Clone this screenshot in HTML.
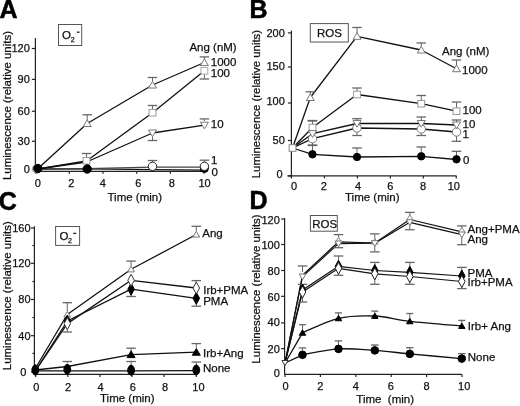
<!DOCTYPE html>
<html><head><meta charset="utf-8"><style>
html,body{margin:0;padding:0;background:#fff;}
svg{display:block;font-family:"Liberation Sans", sans-serif;will-change:transform;}
</style></head><body>
<svg width="520" height="406" viewBox="0 0 520 406">
<rect width="520" height="406" fill="#fff"/>
<text x="-0.5" y="17.6" font-size="25" text-anchor="start" font-weight="bold" fill="#000" stroke="#000" stroke-width="0.5">A</text>
<rect x="58.5" y="24.5" width="23.2" height="21" fill="none" stroke="#555" stroke-width="1"/>
<text x="62" y="39.3" font-size="11.5" text-anchor="start" font-weight="normal" fill="#111" stroke="#111" stroke-width="0.25">O</text>
<text x="70.8" y="41.6" font-size="7" text-anchor="start" font-weight="normal" fill="#111" stroke="#111" stroke-width="0.25">2</text>
<line x1="76.8" y1="32.2" x2="79.6" y2="32.2" stroke="#222" stroke-width="1.3"/>
<text transform="translate(10.9,105.5) rotate(-90)" x="0" y="0" font-size="11.5" text-anchor="middle" fill="#111" stroke="#111" stroke-width="0.25" textLength="149" lengthAdjust="spacingAndGlyphs">Luminescence (relative units)</text>
<line x1="35.4" y1="38" x2="35.4" y2="171.5" stroke="#222" stroke-width="1.2"/>
<line x1="31.9" y1="48.5" x2="35.4" y2="48.5" stroke="#222" stroke-width="1.2"/>
<text x="29.8" y="52.4" font-size="11" text-anchor="end" font-weight="normal" fill="#111" stroke="#111" stroke-width="0.25">120</text>
<line x1="31.9" y1="79.4" x2="35.4" y2="79.4" stroke="#222" stroke-width="1.2"/>
<text x="29.8" y="83.3" font-size="11" text-anchor="end" font-weight="normal" fill="#111" stroke="#111" stroke-width="0.25">90</text>
<line x1="31.9" y1="111.25" x2="35.4" y2="111.25" stroke="#222" stroke-width="1.2"/>
<text x="29.8" y="115.15" font-size="11" text-anchor="end" font-weight="normal" fill="#111" stroke="#111" stroke-width="0.25">60</text>
<line x1="31.9" y1="141.25" x2="35.4" y2="141.25" stroke="#222" stroke-width="1.2"/>
<text x="29.8" y="145.15" font-size="11" text-anchor="end" font-weight="normal" fill="#111" stroke="#111" stroke-width="0.25">30</text>
<line x1="31.9" y1="169.5" x2="35.4" y2="169.5" stroke="#222" stroke-width="1.2"/>
<text x="29.8" y="173.4" font-size="11" text-anchor="end" font-weight="normal" fill="#111" stroke="#111" stroke-width="0.25">0</text>
<line x1="35.4" y1="171.3" x2="204.4" y2="171.3" stroke="#222" stroke-width="1.2"/>
<line x1="35.6" y1="171.3" x2="35.6" y2="173.8" stroke="#222" stroke-width="1.2"/>
<text x="37.9" y="186.8" font-size="11" text-anchor="middle" font-weight="normal" fill="#111" stroke="#111" stroke-width="0.25">0</text>
<line x1="69.3" y1="171.3" x2="69.3" y2="173.8" stroke="#222" stroke-width="1.2"/>
<text x="71.25" y="186.8" font-size="11" text-anchor="middle" font-weight="normal" fill="#111" stroke="#111" stroke-width="0.25">2</text>
<line x1="103" y1="171.3" x2="103" y2="173.8" stroke="#222" stroke-width="1.2"/>
<text x="102.7" y="186.8" font-size="11" text-anchor="middle" font-weight="normal" fill="#111" stroke="#111" stroke-width="0.25">4</text>
<line x1="136.7" y1="171.3" x2="136.7" y2="173.8" stroke="#222" stroke-width="1.2"/>
<text x="138.3" y="186.8" font-size="11" text-anchor="middle" font-weight="normal" fill="#111" stroke="#111" stroke-width="0.25">6</text>
<line x1="170.4" y1="171.3" x2="170.4" y2="173.8" stroke="#222" stroke-width="1.2"/>
<text x="171.9" y="186.8" font-size="11" text-anchor="middle" font-weight="normal" fill="#111" stroke="#111" stroke-width="0.25">8</text>
<line x1="204.1" y1="171.3" x2="204.1" y2="173.8" stroke="#222" stroke-width="1.2"/>
<text x="204.6" y="186.8" font-size="11" text-anchor="middle" font-weight="normal" fill="#111" stroke="#111" stroke-width="0.25">10</text>
<text x="107.5" y="201" font-size="11.5" text-anchor="start" font-weight="normal" fill="#111" stroke="#111" stroke-width="0.25">Time (min)</text>
<polyline points="37.5,169 87,168.8 152.5,169.6 204.4,170.2" fill="none" stroke="#111" stroke-width="1.3" stroke-linejoin="round"/>
<polyline points="37.5,169 87,168.6 152.5,167.2 204.4,167.2" fill="none" stroke="#444" stroke-width="1.3" stroke-linejoin="round"/>
<polyline points="37.5,169 86.5,162 152.5,133 204.4,125.2" fill="none" stroke="#111" stroke-width="1.3" stroke-linejoin="round"/>
<polyline points="37.5,169 86.5,161 152.5,112.7 204.4,70.8" fill="none" stroke="#111" stroke-width="1.3" stroke-linejoin="round"/>
<polyline points="37.5,169 87.2,123.5 152.5,85 204.4,62.5" fill="none" stroke="#111" stroke-width="1.3" stroke-linejoin="round"/>
<line x1="87.2" y1="120" x2="87.2" y2="114.8" stroke="#666" stroke-width="1"/>
<line x1="82.45" y1="114.8" x2="91.95" y2="114.8" stroke="#666" stroke-width="1.3"/>
<line x1="152.5" y1="81.5" x2="152.5" y2="77.5" stroke="#666" stroke-width="1"/>
<line x1="147.75" y1="77.5" x2="157.25" y2="77.5" stroke="#666" stroke-width="1.3"/>
<line x1="204.4" y1="59" x2="204.4" y2="56.9" stroke="#666" stroke-width="1"/>
<line x1="199.65" y1="56.9" x2="209.15" y2="56.9" stroke="#666" stroke-width="1.3"/>
<line x1="86.5" y1="157" x2="86.5" y2="153.5" stroke="#666" stroke-width="1"/>
<line x1="81.75" y1="153.5" x2="91.25" y2="153.5" stroke="#666" stroke-width="1.3"/>
<line x1="152.5" y1="109" x2="152.5" y2="105.5" stroke="#666" stroke-width="1"/>
<line x1="147.75" y1="105.5" x2="157.25" y2="105.5" stroke="#666" stroke-width="1.3"/>
<line x1="204.4" y1="74" x2="204.4" y2="79" stroke="#666" stroke-width="1"/>
<line x1="199.65" y1="79" x2="209.15" y2="79" stroke="#666" stroke-width="1.3"/>
<line x1="152.5" y1="137" x2="152.5" y2="140.5" stroke="#666" stroke-width="1"/>
<line x1="147.75" y1="140.5" x2="157.25" y2="140.5" stroke="#666" stroke-width="1.3"/>
<line x1="204.4" y1="121" x2="204.4" y2="118.9" stroke="#666" stroke-width="1"/>
<line x1="199.65" y1="118.9" x2="209.15" y2="118.9" stroke="#666" stroke-width="1.3"/>
<line x1="152.5" y1="162" x2="152.5" y2="160.5" stroke="#666" stroke-width="1"/>
<line x1="147.75" y1="160.5" x2="157.25" y2="160.5" stroke="#666" stroke-width="1.3"/>
<line x1="204.4" y1="162" x2="204.4" y2="160.2" stroke="#666" stroke-width="1"/>
<line x1="199.65" y1="160.2" x2="209.15" y2="160.2" stroke="#666" stroke-width="1.3"/>
<circle cx="36.5" cy="169" r="4.2" fill="#fff" stroke="#999" stroke-width="1"/>
<polygon points="87.2,119.8 91.19,126.52 83.21,126.52" fill="#fff" stroke="#777" stroke-width="1"/>
<polygon points="152.5,81.3 156.49,88.02 148.51,88.02" fill="#fff" stroke="#777" stroke-width="1"/>
<polygon points="204.4,58.8 208.39,65.52 200.41,65.52" fill="#fff" stroke="#777" stroke-width="1"/>
<rect x="83.1" y="157.5" width="6.8" height="6.6" fill="#fff" stroke="#999" stroke-width="1"/>
<rect x="149.1" y="109.4" width="6.8" height="6.6" fill="#fff" stroke="#999" stroke-width="1"/>
<rect x="201" y="67.5" width="6.8" height="6.6" fill="#fff" stroke="#aaa" stroke-width="1"/>
<polygon points="152.5,136.7 156.49,129.98 148.51,129.98" fill="#fff" stroke="#777" stroke-width="1"/>
<polygon points="204.4,128.9 208.39,122.18 200.41,122.18" fill="#fff" stroke="#777" stroke-width="1"/>
<circle cx="204.4" cy="168.4" r="4" fill="#000" stroke="#000" stroke-width="1"/>
<circle cx="152.5" cy="166.3" r="4.2" fill="#fff" stroke="#222" stroke-width="1"/>
<circle cx="204.4" cy="166.3" r="4.2" fill="#fff" stroke="#222" stroke-width="1"/>
<circle cx="37.8" cy="168.5" r="4.2" fill="#000" stroke="#000" stroke-width="1"/>
<circle cx="87.2" cy="169" r="4.2" fill="#000" stroke="#000" stroke-width="1"/>
<text x="189.4" y="50.8" font-size="11.5" text-anchor="start" font-weight="normal" fill="#111" stroke="#111" stroke-width="0.25">Ang (nM)</text>
<text x="210.8" y="66" font-size="11.5" text-anchor="start" font-weight="normal" fill="#111" stroke="#111" stroke-width="0.25">1000</text>
<text x="210.8" y="76.5" font-size="11.5" text-anchor="start" font-weight="normal" fill="#111" stroke="#111" stroke-width="0.25">100</text>
<text x="210.8" y="128.4" font-size="11.5" text-anchor="start" font-weight="normal" fill="#111" stroke="#111" stroke-width="0.25">10</text>
<text x="211" y="164" font-size="11.5" text-anchor="start" font-weight="normal" fill="#111" stroke="#111" stroke-width="0.25">1</text>
<text x="211.5" y="175.5" font-size="11.5" text-anchor="start" font-weight="normal" fill="#111" stroke="#111" stroke-width="0.25">0</text>
<text x="249.5" y="17.9" font-size="25" text-anchor="start" font-weight="bold" fill="#000" stroke="#000" stroke-width="0.5">B</text>
<rect x="310.3" y="23.6" width="38" height="18.4" fill="none" stroke="#555" stroke-width="1"/>
<text x="317" y="37.2" font-size="11.5" text-anchor="start" font-weight="normal" fill="#111" stroke="#111" stroke-width="0.25">ROS</text>
<text transform="translate(259.5,104.1) rotate(-90)" x="0" y="0" font-size="11.5" text-anchor="middle" fill="#111" stroke="#111" stroke-width="0.25" textLength="148.4" lengthAdjust="spacingAndGlyphs">Luminescence (relative units)</text>
<line x1="291.4" y1="30.5" x2="291.4" y2="177.8" stroke="#222" stroke-width="1.2"/>
<line x1="287.9" y1="32.9" x2="291.4" y2="32.9" stroke="#222" stroke-width="1.2"/>
<text x="284.8" y="36.5" font-size="11" text-anchor="end" font-weight="normal" fill="#111" stroke="#111" stroke-width="0.25">200</text>
<line x1="287.9" y1="67" x2="291.4" y2="67" stroke="#222" stroke-width="1.2"/>
<text x="284.8" y="70.4" font-size="11" text-anchor="end" font-weight="normal" fill="#111" stroke="#111" stroke-width="0.25">150</text>
<line x1="287.9" y1="103" x2="291.4" y2="103" stroke="#222" stroke-width="1.2"/>
<text x="284.8" y="105" font-size="11" text-anchor="end" font-weight="normal" fill="#111" stroke="#111" stroke-width="0.25">100</text>
<line x1="287.9" y1="140.5" x2="291.4" y2="140.5" stroke="#222" stroke-width="1.2"/>
<text x="284.8" y="144.2" font-size="11" text-anchor="end" font-weight="normal" fill="#111" stroke="#111" stroke-width="0.25">50</text>
<line x1="287.9" y1="175.9" x2="291.4" y2="175.9" stroke="#222" stroke-width="1.2"/>
<text x="284.8" y="177.5" font-size="11" text-anchor="end" font-weight="normal" fill="#111" stroke="#111" stroke-width="0.25"></text>
<text x="282.6" y="177.5" font-size="11" text-anchor="end" font-weight="normal" fill="#111" stroke="#111" stroke-width="0.25">0</text>
<line x1="287.5" y1="175.9" x2="456.6" y2="175.9" stroke="#222" stroke-width="1.2"/>
<line x1="291.5" y1="175.9" x2="291.5" y2="178.4" stroke="#222" stroke-width="1.2"/>
<text x="294" y="189.6" font-size="11" text-anchor="middle" font-weight="normal" fill="#111" stroke="#111" stroke-width="0.25">0</text>
<line x1="324.45" y1="175.9" x2="324.45" y2="178.4" stroke="#222" stroke-width="1.2"/>
<text x="323.9" y="189.6" font-size="11" text-anchor="middle" font-weight="normal" fill="#111" stroke="#111" stroke-width="0.25">2</text>
<line x1="357.4" y1="175.9" x2="357.4" y2="178.4" stroke="#222" stroke-width="1.2"/>
<text x="358" y="189.6" font-size="11" text-anchor="middle" font-weight="normal" fill="#111" stroke="#111" stroke-width="0.25">4</text>
<line x1="390.35" y1="175.9" x2="390.35" y2="178.4" stroke="#222" stroke-width="1.2"/>
<text x="390.4" y="189.6" font-size="11" text-anchor="middle" font-weight="normal" fill="#111" stroke="#111" stroke-width="0.25">6</text>
<line x1="423.3" y1="175.9" x2="423.3" y2="178.4" stroke="#222" stroke-width="1.2"/>
<text x="423.1" y="189.6" font-size="11" text-anchor="middle" font-weight="normal" fill="#111" stroke="#111" stroke-width="0.25">8</text>
<line x1="456.25" y1="175.9" x2="456.25" y2="178.4" stroke="#222" stroke-width="1.2"/>
<text x="453.8" y="189.6" font-size="11" text-anchor="middle" font-weight="normal" fill="#111" stroke="#111" stroke-width="0.25">10</text>
<text x="345" y="201" font-size="11.5" text-anchor="start" font-weight="normal" fill="#111" stroke="#111" stroke-width="0.25">Time (min)</text>
<polyline points="292.5,148 312.5,154.3 357,157 421.25,156.3 456.5,159.5" fill="none" stroke="#111" stroke-width="1.3" stroke-linejoin="round"/>
<polyline points="292.5,148 312.5,138.7 357,128 421.25,129 456.5,132" fill="none" stroke="#111" stroke-width="1.3" stroke-linejoin="round"/>
<polyline points="292.5,148 312.5,133.7 357,123.5 421.25,123.5 456.5,125" fill="none" stroke="#111" stroke-width="1.3" stroke-linejoin="round"/>
<polyline points="292.5,148 312.5,127.5 357,94.5 421.25,103.7 456.5,111.2" fill="none" stroke="#111" stroke-width="1.3" stroke-linejoin="round"/>
<polyline points="292.5,148 310.3,97.5 357,36.3 421.25,50 456.5,68.7" fill="none" stroke="#111" stroke-width="1.3" stroke-linejoin="round"/>
<line x1="310.3" y1="94" x2="310.3" y2="91.8" stroke="#666" stroke-width="1"/>
<line x1="305.55" y1="91.8" x2="315.05" y2="91.8" stroke="#666" stroke-width="1.3"/>
<line x1="357" y1="33" x2="357" y2="27.5" stroke="#666" stroke-width="1"/>
<line x1="352.25" y1="27.5" x2="361.75" y2="27.5" stroke="#666" stroke-width="1.3"/>
<line x1="421.25" y1="46" x2="421.25" y2="43" stroke="#666" stroke-width="1"/>
<line x1="416.5" y1="43" x2="426" y2="43" stroke="#666" stroke-width="1.3"/>
<line x1="456.5" y1="65" x2="456.5" y2="60" stroke="#666" stroke-width="1"/>
<line x1="451.75" y1="60" x2="461.25" y2="60" stroke="#666" stroke-width="1.3"/>
<line x1="312.5" y1="124" x2="312.5" y2="120.5" stroke="#666" stroke-width="1"/>
<line x1="307.75" y1="120.5" x2="317.25" y2="120.5" stroke="#666" stroke-width="1.3"/>
<line x1="357" y1="91" x2="357" y2="88" stroke="#666" stroke-width="1"/>
<line x1="352.25" y1="88" x2="361.75" y2="88" stroke="#666" stroke-width="1.3"/>
<line x1="421.25" y1="100" x2="421.25" y2="95.5" stroke="#666" stroke-width="1"/>
<line x1="416.5" y1="95.5" x2="426" y2="95.5" stroke="#666" stroke-width="1.3"/>
<line x1="456.5" y1="108" x2="456.5" y2="102" stroke="#666" stroke-width="1"/>
<line x1="451.75" y1="102" x2="461.25" y2="102" stroke="#666" stroke-width="1.3"/>
<line x1="312.5" y1="130" x2="312.5" y2="121" stroke="#666" stroke-width="1"/>
<line x1="307.75" y1="121" x2="317.25" y2="121" stroke="#666" stroke-width="1.3"/>
<line x1="357" y1="121" x2="357" y2="118.7" stroke="#666" stroke-width="1"/>
<line x1="352.25" y1="118.7" x2="361.75" y2="118.7" stroke="#666" stroke-width="1.3"/>
<line x1="421.25" y1="121" x2="421.25" y2="117" stroke="#666" stroke-width="1"/>
<line x1="416.5" y1="117" x2="426" y2="117" stroke="#666" stroke-width="1.3"/>
<line x1="456.5" y1="122" x2="456.5" y2="120" stroke="#666" stroke-width="1"/>
<line x1="451.75" y1="120" x2="461.25" y2="120" stroke="#666" stroke-width="1.3"/>
<line x1="312.5" y1="142" x2="312.5" y2="145.5" stroke="#666" stroke-width="1"/>
<line x1="307.75" y1="145.5" x2="317.25" y2="145.5" stroke="#666" stroke-width="1.3"/>
<line x1="357" y1="132" x2="357" y2="135.5" stroke="#666" stroke-width="1"/>
<line x1="352.25" y1="135.5" x2="361.75" y2="135.5" stroke="#666" stroke-width="1.3"/>
<line x1="421.25" y1="132" x2="421.25" y2="135.5" stroke="#666" stroke-width="1"/>
<line x1="416.5" y1="135.5" x2="426" y2="135.5" stroke="#666" stroke-width="1.3"/>
<line x1="456.5" y1="136" x2="456.5" y2="141.3" stroke="#666" stroke-width="1"/>
<line x1="451.75" y1="141.3" x2="461.25" y2="141.3" stroke="#666" stroke-width="1.3"/>
<line x1="312.5" y1="151" x2="312.5" y2="145" stroke="#666" stroke-width="1"/>
<line x1="307.75" y1="145" x2="317.25" y2="145" stroke="#666" stroke-width="1.3"/>
<line x1="357" y1="153" x2="357" y2="148" stroke="#666" stroke-width="1"/>
<line x1="352.25" y1="148" x2="361.75" y2="148" stroke="#666" stroke-width="1.3"/>
<line x1="421.25" y1="152" x2="421.25" y2="147" stroke="#666" stroke-width="1"/>
<line x1="416.5" y1="147" x2="426" y2="147" stroke="#666" stroke-width="1.3"/>
<line x1="456.5" y1="156" x2="456.5" y2="151.3" stroke="#666" stroke-width="1"/>
<line x1="451.75" y1="151.3" x2="461.25" y2="151.3" stroke="#666" stroke-width="1.3"/>
<polygon points="310.3,93.8 314.29,100.52 306.31,100.52" fill="#fff" stroke="#777" stroke-width="1"/>
<polygon points="357,32.6 360.99,39.32 353.01,39.32" fill="#fff" stroke="#777" stroke-width="1"/>
<polygon points="421.25,46.3 425.24,53.02 417.26,53.02" fill="#fff" stroke="#777" stroke-width="1"/>
<polygon points="456.5,65 460.49,71.72 452.51,71.72" fill="#fff" stroke="#777" stroke-width="1"/>
<rect x="309.1" y="124.2" width="6.8" height="6.6" fill="#fff" stroke="#999" stroke-width="1"/>
<rect x="353.6" y="91.2" width="6.8" height="6.6" fill="#fff" stroke="#999" stroke-width="1"/>
<rect x="417.85" y="100.4" width="6.8" height="6.6" fill="#fff" stroke="#999" stroke-width="1"/>
<rect x="453.1" y="107.9" width="6.8" height="6.6" fill="#fff" stroke="#999" stroke-width="1"/>
<circle cx="312.5" cy="138.7" r="4.2" fill="#fff" stroke="#777" stroke-width="1"/>
<circle cx="357" cy="128" r="4.2" fill="#fff" stroke="#777" stroke-width="1"/>
<circle cx="421.25" cy="129" r="4.2" fill="#fff" stroke="#777" stroke-width="1"/>
<circle cx="456.5" cy="132" r="4.2" fill="#fff" stroke="#777" stroke-width="1"/>
<polygon points="312.5,137.4 316.49,130.68 308.51,130.68" fill="#fff" stroke="#777" stroke-width="1"/>
<polygon points="357,127.2 360.99,120.48 353.01,120.48" fill="#fff" stroke="#777" stroke-width="1"/>
<polygon points="421.25,127.2 425.24,120.48 417.26,120.48" fill="#fff" stroke="#777" stroke-width="1"/>
<polygon points="456.5,128.7 460.49,121.98 452.51,121.98" fill="#fff" stroke="#777" stroke-width="1"/>
<circle cx="312.5" cy="154.3" r="3.7" fill="#000" stroke="#000" stroke-width="1"/>
<circle cx="357" cy="157" r="3.7" fill="#000" stroke="#000" stroke-width="1"/>
<circle cx="421.25" cy="156.3" r="3.7" fill="#000" stroke="#000" stroke-width="1"/>
<circle cx="456.5" cy="159.3" r="3.7" fill="#000" stroke="#000" stroke-width="1"/>
<rect x="289.1" y="144.7" width="6.8" height="6.6" fill="#fff" stroke="#888" stroke-width="1"/>
<text x="442" y="54.5" font-size="11.5" text-anchor="start" font-weight="normal" fill="#111" stroke="#111" stroke-width="0.25">Ang (nM)</text>
<text x="462" y="73.5" font-size="11.5" text-anchor="start" font-weight="normal" fill="#111" stroke="#111" stroke-width="0.25">1000</text>
<text x="462.5" y="114" font-size="11.5" text-anchor="start" font-weight="normal" fill="#111" stroke="#111" stroke-width="0.25">100</text>
<text x="462.5" y="127.7" font-size="11.5" text-anchor="start" font-weight="normal" fill="#111" stroke="#111" stroke-width="0.25">10</text>
<text x="462.5" y="137.7" font-size="11.5" text-anchor="start" font-weight="normal" fill="#111" stroke="#111" stroke-width="0.25">1</text>
<text x="463" y="164" font-size="11.5" text-anchor="start" font-weight="normal" fill="#111" stroke="#111" stroke-width="0.25">0</text>
<text x="-1.2" y="209.5" font-size="25" text-anchor="start" font-weight="bold" fill="#000" stroke="#000" stroke-width="0.5">C</text>
<rect x="55.6" y="226.5" width="24" height="18.9" fill="none" stroke="#555" stroke-width="1"/>
<text x="59.5" y="239.8" font-size="11.5" text-anchor="start" font-weight="normal" fill="#111" stroke="#111" stroke-width="0.25">O</text>
<text x="68" y="242.8" font-size="7" text-anchor="start" font-weight="normal" fill="#111" stroke="#111" stroke-width="0.25">2</text>
<line x1="73.2" y1="233.4" x2="76.3" y2="233.4" stroke="#222" stroke-width="1.3"/>
<text transform="translate(11.1,295.7) rotate(-90)" x="0" y="0" font-size="11.5" text-anchor="middle" fill="#111" stroke="#111" stroke-width="0.25" textLength="149" lengthAdjust="spacingAndGlyphs">Luminescence (relative units)</text>
<line x1="34.4" y1="226.3" x2="34.4" y2="374.4" stroke="#222" stroke-width="1.2"/>
<line x1="30.9" y1="228" x2="34.4" y2="228" stroke="#222" stroke-width="1.2"/>
<text x="30.6" y="231.9" font-size="11" text-anchor="end" font-weight="normal" fill="#111" stroke="#111" stroke-width="0.25">160</text>
<line x1="30.9" y1="263.3" x2="34.4" y2="263.3" stroke="#222" stroke-width="1.2"/>
<text x="30.6" y="267.2" font-size="11" text-anchor="end" font-weight="normal" fill="#111" stroke="#111" stroke-width="0.25">120</text>
<line x1="30.9" y1="299.5" x2="34.4" y2="299.5" stroke="#222" stroke-width="1.2"/>
<text x="30.6" y="303.4" font-size="11" text-anchor="end" font-weight="normal" fill="#111" stroke="#111" stroke-width="0.25">80</text>
<line x1="30.9" y1="335.7" x2="34.4" y2="335.7" stroke="#222" stroke-width="1.2"/>
<text x="30.6" y="339.6" font-size="11" text-anchor="end" font-weight="normal" fill="#111" stroke="#111" stroke-width="0.25">40</text>
<line x1="32.4" y1="245.5" x2="34.4" y2="245.5" stroke="#222" stroke-width="1.2"/>
<line x1="32.4" y1="281.5" x2="34.4" y2="281.5" stroke="#222" stroke-width="1.2"/>
<line x1="32.4" y1="317.5" x2="34.4" y2="317.5" stroke="#222" stroke-width="1.2"/>
<line x1="32.4" y1="353.4" x2="34.4" y2="353.4" stroke="#222" stroke-width="1.2"/>
<line x1="31" y1="372" x2="34.4" y2="372" stroke="#222" stroke-width="1.2"/>
<text x="26.3" y="376.4" font-size="11" text-anchor="end" font-weight="normal" fill="#111" stroke="#111" stroke-width="0.25">0</text>
<line x1="34.4" y1="374.4" x2="196" y2="374.4" stroke="#222" stroke-width="1.2"/>
<line x1="35.7" y1="374.4" x2="35.7" y2="376.9" stroke="#222" stroke-width="1.2"/>
<text x="36.3" y="391.2" font-size="11" text-anchor="middle" font-weight="normal" fill="#111" stroke="#111" stroke-width="0.25">0</text>
<line x1="67.8" y1="374.4" x2="67.8" y2="376.9" stroke="#222" stroke-width="1.2"/>
<text x="68.1" y="391.2" font-size="11" text-anchor="middle" font-weight="normal" fill="#111" stroke="#111" stroke-width="0.25">2</text>
<line x1="99.9" y1="374.4" x2="99.9" y2="376.9" stroke="#222" stroke-width="1.2"/>
<text x="100.5" y="391.2" font-size="11" text-anchor="middle" font-weight="normal" fill="#111" stroke="#111" stroke-width="0.25">4</text>
<line x1="132" y1="374.4" x2="132" y2="376.9" stroke="#222" stroke-width="1.2"/>
<text x="132.8" y="391.2" font-size="11" text-anchor="middle" font-weight="normal" fill="#111" stroke="#111" stroke-width="0.25">6</text>
<line x1="164.1" y1="374.4" x2="164.1" y2="376.9" stroke="#222" stroke-width="1.2"/>
<text x="165.1" y="391.2" font-size="11" text-anchor="middle" font-weight="normal" fill="#111" stroke="#111" stroke-width="0.25">8</text>
<line x1="196.2" y1="374.4" x2="196.2" y2="376.9" stroke="#222" stroke-width="1.2"/>
<text x="198.4" y="391.2" font-size="11" text-anchor="middle" font-weight="normal" fill="#111" stroke="#111" stroke-width="0.25">10</text>
<text x="100" y="401.5" font-size="11.5" text-anchor="start" font-weight="normal" fill="#111" stroke="#111" stroke-width="0.25">Time (min)</text>
<polyline points="35.3,370.8 67.3,370.8 131.1,370.8 196.3,370.6" fill="none" stroke="#111" stroke-width="1.3" stroke-linejoin="round"/>
<polyline points="35.3,370 67.3,366.5 131.1,354.6 196.3,352.2" fill="none" stroke="#111" stroke-width="1.3" stroke-linejoin="round"/>
<polyline points="35.3,371 67.3,321 131.1,289.2 196.3,298.3" fill="none" stroke="#111" stroke-width="1.3" stroke-linejoin="round"/>
<polyline points="35.3,371 67.3,323.6 131.1,280.3 196.3,288" fill="none" stroke="#111" stroke-width="1.3" stroke-linejoin="round"/>
<polyline points="35.3,368.5 67.3,314.5 131.1,269.3 196.3,234.5" fill="none" stroke="#111" stroke-width="1.3" stroke-linejoin="round"/>
<line x1="67.3" y1="311" x2="67.3" y2="302.7" stroke="#666" stroke-width="1"/>
<line x1="62.55" y1="302.7" x2="72.05" y2="302.7" stroke="#666" stroke-width="1.3"/>
<line x1="131.1" y1="266" x2="131.1" y2="261.1" stroke="#666" stroke-width="1"/>
<line x1="126.35" y1="261.1" x2="135.85" y2="261.1" stroke="#666" stroke-width="1.3"/>
<line x1="196.3" y1="231" x2="196.3" y2="226.3" stroke="#666" stroke-width="1"/>
<line x1="191.55" y1="226.3" x2="201.05" y2="226.3" stroke="#666" stroke-width="1.3"/>
<line x1="67.3" y1="328" x2="67.3" y2="332" stroke="#666" stroke-width="1"/>
<line x1="62.55" y1="332" x2="72.05" y2="332" stroke="#666" stroke-width="1.3"/>
<line x1="196.3" y1="283" x2="196.3" y2="280.6" stroke="#666" stroke-width="1"/>
<line x1="191.55" y1="280.6" x2="201.05" y2="280.6" stroke="#666" stroke-width="1.3"/>
<line x1="131.1" y1="293" x2="131.1" y2="296.5" stroke="#666" stroke-width="1"/>
<line x1="126.35" y1="296.5" x2="135.85" y2="296.5" stroke="#666" stroke-width="1.3"/>
<line x1="196.3" y1="303" x2="196.3" y2="306.2" stroke="#666" stroke-width="1"/>
<line x1="191.55" y1="306.2" x2="201.05" y2="306.2" stroke="#666" stroke-width="1.3"/>
<line x1="67.3" y1="363" x2="67.3" y2="361.5" stroke="#666" stroke-width="1"/>
<line x1="62.55" y1="361.5" x2="72.05" y2="361.5" stroke="#666" stroke-width="1.3"/>
<line x1="131.1" y1="351" x2="131.1" y2="348.2" stroke="#666" stroke-width="1"/>
<line x1="126.35" y1="348.2" x2="135.85" y2="348.2" stroke="#666" stroke-width="1.3"/>
<line x1="196.3" y1="348" x2="196.3" y2="343.6" stroke="#666" stroke-width="1"/>
<line x1="191.55" y1="343.6" x2="201.05" y2="343.6" stroke="#666" stroke-width="1.3"/>
<line x1="131.1" y1="366" x2="131.1" y2="361.5" stroke="#666" stroke-width="1"/>
<line x1="126.35" y1="361.5" x2="135.85" y2="361.5" stroke="#666" stroke-width="1.3"/>
<line x1="196.3" y1="366" x2="196.3" y2="362" stroke="#666" stroke-width="1"/>
<line x1="191.55" y1="362" x2="201.05" y2="362" stroke="#666" stroke-width="1.3"/>
<polygon points="67.3,311.33 70.72,317.09 63.88,317.09" fill="#fff" stroke="#777" stroke-width="1"/>
<polygon points="131.1,266.13 134.52,271.89 127.68,271.89" fill="#fff" stroke="#777" stroke-width="1"/>
<polygon points="196.3,231.33 199.72,237.09 192.88,237.09" fill="#fff" stroke="#777" stroke-width="1"/>
<polygon points="67.3,315 70.6,321 67.3,327 64,321" fill="#000" stroke="#000" stroke-width="1"/>
<polygon points="131.1,283.2 134.4,289.2 131.1,295.2 127.8,289.2" fill="#000" stroke="#000" stroke-width="1"/>
<polygon points="196.3,292.3 199.6,298.3 196.3,304.3 193,298.3" fill="#000" stroke="#000" stroke-width="1"/>
<polygon points="67.3,317.6 70.6,323.6 67.3,329.6 64,323.6" fill="#fff" stroke="#333" stroke-width="1"/>
<polygon points="131.1,274.3 134.4,280.3 131.1,286.3 127.8,280.3" fill="#fff" stroke="#333" stroke-width="1"/>
<polygon points="196.3,282 199.6,288 196.3,294 193,288" fill="#fff" stroke="#333" stroke-width="1"/>
<polygon points="131.1,350.9 135.09,357.62 127.11,357.62" fill="#000" stroke="#000" stroke-width="1"/>
<polygon points="196.3,348.5 200.29,355.22 192.31,355.22" fill="#000" stroke="#000" stroke-width="1"/>
<ellipse cx="35.3" cy="370" rx="3.4" ry="4.9" fill="#000" stroke="#000" stroke-width="1"/>
<polygon points="35.3,364 37.8,370 35.3,376 32.8,370" fill="#000"/>
<ellipse cx="67.3" cy="369.3" rx="3.4" ry="4.9" fill="#000" stroke="#000" stroke-width="1"/>
<polygon points="67.3,363.3 69.8,369.3 67.3,375.3 64.8,369.3" fill="#000"/>
<ellipse cx="131.1" cy="370.2" rx="3.4" ry="4.9" fill="#000" stroke="#000" stroke-width="1"/>
<polygon points="131.1,364.2 133.6,370.2 131.1,376.2 128.6,370.2" fill="#000"/>
<ellipse cx="196.3" cy="370" rx="3.4" ry="4.9" fill="#000" stroke="#000" stroke-width="1"/>
<polygon points="196.3,364 198.8,370 196.3,376 193.8,370" fill="#000"/>
<text x="202.3" y="237.4" font-size="11.5" text-anchor="start" font-weight="normal" fill="#111" stroke="#111" stroke-width="0.25">Ang</text>
<text x="203.2" y="293.8" font-size="11.5" text-anchor="start" font-weight="normal" fill="#111" stroke="#111" stroke-width="0.25">Irb+PMA</text>
<text x="203.2" y="305.4" font-size="11.5" text-anchor="start" font-weight="normal" fill="#111" stroke="#111" stroke-width="0.25">PMA</text>
<text x="203" y="357" font-size="11.5" text-anchor="start" font-weight="normal" fill="#111" stroke="#111" stroke-width="0.25">Irb+Ang</text>
<text x="203" y="372.4" font-size="11.5" text-anchor="start" font-weight="normal" fill="#111" stroke="#111" stroke-width="0.25">None</text>
<text x="249.6" y="208.9" font-size="25" text-anchor="start" font-weight="bold" fill="#000" stroke="#000" stroke-width="0.5">D</text>
<rect x="310.4" y="215.5" width="26.9" height="15.7" fill="none" stroke="#555" stroke-width="1"/>
<text x="312.2" y="228.1" font-size="11.5" text-anchor="start" font-weight="normal" fill="#111" stroke="#111" stroke-width="0.25">ROS</text>
<text transform="translate(259.8,289) rotate(-90)" x="0" y="0" font-size="11.5" text-anchor="middle" fill="#111" stroke="#111" stroke-width="0.25" textLength="149.3" lengthAdjust="spacingAndGlyphs">Luminescence (relative units)</text>
<line x1="284.6" y1="218" x2="284.6" y2="374.4" stroke="#222" stroke-width="1.2"/>
<line x1="281.1" y1="219" x2="284.6" y2="219" stroke="#222" stroke-width="1.2"/>
<text x="279.8" y="223.5" font-size="11" text-anchor="end" font-weight="normal" fill="#111" stroke="#111" stroke-width="0.25">120</text>
<line x1="281.1" y1="244.5" x2="284.6" y2="244.5" stroke="#222" stroke-width="1.2"/>
<text x="279.8" y="249.1" font-size="11" text-anchor="end" font-weight="normal" fill="#111" stroke="#111" stroke-width="0.25">100</text>
<line x1="281.1" y1="270.5" x2="284.6" y2="270.5" stroke="#222" stroke-width="1.2"/>
<text x="279.8" y="275.2" font-size="11" text-anchor="end" font-weight="normal" fill="#111" stroke="#111" stroke-width="0.25">80</text>
<line x1="281.1" y1="296.3" x2="284.6" y2="296.3" stroke="#222" stroke-width="1.2"/>
<text x="279.8" y="300.5" font-size="11" text-anchor="end" font-weight="normal" fill="#111" stroke="#111" stroke-width="0.25">60</text>
<line x1="281.1" y1="322.9" x2="284.6" y2="322.9" stroke="#222" stroke-width="1.2"/>
<text x="279.8" y="326.4" font-size="11" text-anchor="end" font-weight="normal" fill="#111" stroke="#111" stroke-width="0.25">40</text>
<line x1="281.1" y1="348.6" x2="284.6" y2="348.6" stroke="#222" stroke-width="1.2"/>
<text x="279.8" y="352.6" font-size="11" text-anchor="end" font-weight="normal" fill="#111" stroke="#111" stroke-width="0.25">20</text>
<text x="279.8" y="376.7" font-size="11" text-anchor="end" font-weight="normal" fill="#111" stroke="#111" stroke-width="0.25">0</text>
<line x1="284.5" y1="374.4" x2="462" y2="374.4" stroke="#222" stroke-width="1.2"/>
<line x1="285" y1="374.4" x2="285" y2="376.9" stroke="#222" stroke-width="1.2"/>
<text x="285.5" y="390.4" font-size="11" text-anchor="middle" font-weight="normal" fill="#111" stroke="#111" stroke-width="0.25">0</text>
<line x1="320.4" y1="374.4" x2="320.4" y2="376.9" stroke="#222" stroke-width="1.2"/>
<text x="320.3" y="390.4" font-size="11" text-anchor="middle" font-weight="normal" fill="#111" stroke="#111" stroke-width="0.25">2</text>
<line x1="355.8" y1="374.4" x2="355.8" y2="376.9" stroke="#222" stroke-width="1.2"/>
<text x="355.9" y="390.4" font-size="11" text-anchor="middle" font-weight="normal" fill="#111" stroke="#111" stroke-width="0.25">4</text>
<line x1="391.2" y1="374.4" x2="391.2" y2="376.9" stroke="#222" stroke-width="1.2"/>
<text x="390.9" y="390.4" font-size="11" text-anchor="middle" font-weight="normal" fill="#111" stroke="#111" stroke-width="0.25">6</text>
<line x1="426.6" y1="374.4" x2="426.6" y2="376.9" stroke="#222" stroke-width="1.2"/>
<text x="426.5" y="390.4" font-size="11" text-anchor="middle" font-weight="normal" fill="#111" stroke="#111" stroke-width="0.25">8</text>
<line x1="462" y1="374.4" x2="462" y2="376.9" stroke="#222" stroke-width="1.2"/>
<text x="464.2" y="390.4" font-size="11" text-anchor="middle" font-weight="normal" fill="#111" stroke="#111" stroke-width="0.25">10</text>
<text x="356.3" y="402.7" font-size="11.5" text-anchor="start" font-weight="normal" fill="#111" stroke="#111" stroke-width="0.25">Time&#160; (min)</text>
<polyline points="285,363 302.5,354.8" fill="none" stroke="#111" stroke-width="1.3" stroke-linejoin="round"/>
<path d="M302.5,354.8 C308.5,353.82 326.45,349.63 338.5,348.9 C350.55,348.17 362.92,349.57 374.8,350.4 C386.68,351.23 395.3,352.53 409.8,353.9 C424.3,355.27 453.13,357.82 461.8,358.6" fill="none" stroke="#111" stroke-width="1.3" stroke-linejoin="round"/>
<polyline points="285,363 302.5,332.8" fill="none" stroke="#111" stroke-width="1.3" stroke-linejoin="round"/>
<path d="M302.5,332.8 C308.5,330.38 326.45,321.1 338.5,318.3 C350.55,315.5 362.92,315.5 374.8,316 C386.68,316.5 395.3,319.63 409.8,321.3 C424.3,322.97 453.13,325.22 461.8,326" fill="none" stroke="#111" stroke-width="1.3" stroke-linejoin="round"/>
<polyline points="285,363 302.5,290 338.5,266.3 374.8,270.5 409.8,272.3 461.8,276" fill="none" stroke="#111" stroke-width="1.2" stroke-linejoin="round"/>
<polyline points="285,363 302.5,292 338.5,268.3 374.8,273.8 409.8,276.5 461.8,281.5" fill="none" stroke="#111" stroke-width="1.2" stroke-linejoin="round"/>
<polyline points="285,363 302.5,275.2 338.5,241.8 374.8,243 409.8,219.5 461.8,231.8" fill="none" stroke="#111" stroke-width="1.2" stroke-linejoin="round"/>
<polyline points="285,363 302.5,276.6 338.5,243.6 374.8,243.2 409.8,222.3 461.8,234.6" fill="none" stroke="#111" stroke-width="1.2" stroke-linejoin="round"/>
<line x1="302.5" y1="272" x2="302.5" y2="266" stroke="#666" stroke-width="1"/>
<line x1="297.75" y1="266" x2="307.25" y2="266" stroke="#666" stroke-width="1.3"/>
<line x1="338.5" y1="239" x2="338.5" y2="234.6" stroke="#666" stroke-width="1"/>
<line x1="333.75" y1="234.6" x2="343.25" y2="234.6" stroke="#666" stroke-width="1.3"/>
<line x1="338.5" y1="245" x2="338.5" y2="247.7" stroke="#666" stroke-width="1"/>
<line x1="333.75" y1="247.7" x2="343.25" y2="247.7" stroke="#666" stroke-width="1.3"/>
<line x1="374.8" y1="240" x2="374.8" y2="233.9" stroke="#666" stroke-width="1"/>
<line x1="370.05" y1="233.9" x2="379.55" y2="233.9" stroke="#666" stroke-width="1.3"/>
<line x1="374.8" y1="246" x2="374.8" y2="251.9" stroke="#666" stroke-width="1"/>
<line x1="370.05" y1="251.9" x2="379.55" y2="251.9" stroke="#666" stroke-width="1.3"/>
<line x1="409.8" y1="216" x2="409.8" y2="212.4" stroke="#666" stroke-width="1"/>
<line x1="405.05" y1="212.4" x2="414.55" y2="212.4" stroke="#666" stroke-width="1.3"/>
<line x1="409.8" y1="223" x2="409.8" y2="229.7" stroke="#666" stroke-width="1"/>
<line x1="405.05" y1="229.7" x2="414.55" y2="229.7" stroke="#666" stroke-width="1.3"/>
<line x1="461.8" y1="229" x2="461.8" y2="225.9" stroke="#666" stroke-width="1"/>
<line x1="457.05" y1="225.9" x2="466.55" y2="225.9" stroke="#666" stroke-width="1.3"/>
<line x1="461.8" y1="236" x2="461.8" y2="244.7" stroke="#666" stroke-width="1"/>
<line x1="457.05" y1="244.7" x2="466.55" y2="244.7" stroke="#666" stroke-width="1.3"/>
<line x1="302.5" y1="287" x2="302.5" y2="284.4" stroke="#666" stroke-width="1"/>
<line x1="297.75" y1="284.4" x2="307.25" y2="284.4" stroke="#666" stroke-width="1.3"/>
<line x1="302.5" y1="296" x2="302.5" y2="302" stroke="#666" stroke-width="1"/>
<line x1="297.75" y1="302" x2="307.25" y2="302" stroke="#666" stroke-width="1.3"/>
<line x1="338.5" y1="262" x2="338.5" y2="256" stroke="#666" stroke-width="1"/>
<line x1="333.75" y1="256" x2="343.25" y2="256" stroke="#666" stroke-width="1.3"/>
<line x1="338.5" y1="273" x2="338.5" y2="275.3" stroke="#666" stroke-width="1"/>
<line x1="333.75" y1="275.3" x2="343.25" y2="275.3" stroke="#666" stroke-width="1.3"/>
<line x1="374.8" y1="266" x2="374.8" y2="262.4" stroke="#666" stroke-width="1"/>
<line x1="370.05" y1="262.4" x2="379.55" y2="262.4" stroke="#666" stroke-width="1.3"/>
<line x1="374.8" y1="278" x2="374.8" y2="284.3" stroke="#666" stroke-width="1"/>
<line x1="370.05" y1="284.3" x2="379.55" y2="284.3" stroke="#666" stroke-width="1.3"/>
<line x1="409.8" y1="268" x2="409.8" y2="262.4" stroke="#666" stroke-width="1"/>
<line x1="405.05" y1="262.4" x2="414.55" y2="262.4" stroke="#666" stroke-width="1.3"/>
<line x1="409.8" y1="281" x2="409.8" y2="284.3" stroke="#666" stroke-width="1"/>
<line x1="405.05" y1="284.3" x2="414.55" y2="284.3" stroke="#666" stroke-width="1.3"/>
<line x1="461.8" y1="272" x2="461.8" y2="267.4" stroke="#666" stroke-width="1"/>
<line x1="457.05" y1="267.4" x2="466.55" y2="267.4" stroke="#666" stroke-width="1.3"/>
<line x1="461.8" y1="286" x2="461.8" y2="288.6" stroke="#666" stroke-width="1"/>
<line x1="457.05" y1="288.6" x2="466.55" y2="288.6" stroke="#666" stroke-width="1.3"/>
<line x1="302.5" y1="330" x2="302.5" y2="324.7" stroke="#666" stroke-width="1"/>
<line x1="299" y1="324.7" x2="306" y2="324.7" stroke="#666" stroke-width="1.3"/>
<line x1="338.5" y1="315" x2="338.5" y2="312.9" stroke="#666" stroke-width="1"/>
<line x1="335" y1="312.9" x2="342" y2="312.9" stroke="#666" stroke-width="1.3"/>
<line x1="374.8" y1="313" x2="374.8" y2="311.1" stroke="#666" stroke-width="1"/>
<line x1="371.3" y1="311.1" x2="378.3" y2="311.1" stroke="#666" stroke-width="1.3"/>
<line x1="409.8" y1="318" x2="409.8" y2="313.5" stroke="#666" stroke-width="1"/>
<line x1="406.3" y1="313.5" x2="413.3" y2="313.5" stroke="#666" stroke-width="1.3"/>
<line x1="461.8" y1="323" x2="461.8" y2="320.4" stroke="#666" stroke-width="1"/>
<line x1="458.3" y1="320.4" x2="465.3" y2="320.4" stroke="#666" stroke-width="1.3"/>
<line x1="302.5" y1="351" x2="302.5" y2="347.9" stroke="#666" stroke-width="1"/>
<line x1="298.75" y1="347.9" x2="306.25" y2="347.9" stroke="#666" stroke-width="1.3"/>
<line x1="338.5" y1="345" x2="338.5" y2="340.9" stroke="#666" stroke-width="1"/>
<line x1="334.75" y1="340.9" x2="342.25" y2="340.9" stroke="#666" stroke-width="1.3"/>
<line x1="374.8" y1="347" x2="374.8" y2="345" stroke="#666" stroke-width="1"/>
<line x1="371.05" y1="345" x2="378.55" y2="345" stroke="#666" stroke-width="1.3"/>
<line x1="409.8" y1="350" x2="409.8" y2="347.7" stroke="#666" stroke-width="1"/>
<line x1="406.05" y1="347.7" x2="413.55" y2="347.7" stroke="#666" stroke-width="1.3"/>
<line x1="461.8" y1="355" x2="461.8" y2="353.6" stroke="#666" stroke-width="1"/>
<line x1="458.05" y1="353.6" x2="465.55" y2="353.6" stroke="#666" stroke-width="1.3"/>
<polygon points="338.5,237.13 341.92,242.89 335.08,242.89" fill="#fff" stroke="#888" stroke-width="1"/>
<polygon points="374.8,238.33 378.22,244.09 371.38,244.09" fill="#fff" stroke="#888" stroke-width="1"/>
<polygon points="409.8,214.83 413.22,220.59 406.38,220.59" fill="#fff" stroke="#888" stroke-width="1"/>
<polygon points="461.8,227.13 465.22,232.89 458.38,232.89" fill="#fff" stroke="#888" stroke-width="1"/>
<polygon points="302.5,279.77 305.92,274.01 299.08,274.01" fill="#fff" stroke="#777" stroke-width="1"/>
<polygon points="338.5,246.77 341.92,241.01 335.08,241.01" fill="#fff" stroke="#777" stroke-width="1"/>
<polygon points="374.8,246.37 378.22,240.61 371.38,240.61" fill="#fff" stroke="#777" stroke-width="1"/>
<polygon points="409.8,225.47 413.22,219.71 406.38,219.71" fill="#fff" stroke="#777" stroke-width="1"/>
<polygon points="461.8,237.77 465.22,232.01 458.38,232.01" fill="#fff" stroke="#777" stroke-width="1"/>
<polygon points="302.5,284 305.8,290 302.5,296 299.2,290" fill="#000" stroke="#000" stroke-width="1"/>
<polygon points="338.5,260.3 341.8,266.3 338.5,272.3 335.2,266.3" fill="#000" stroke="#000" stroke-width="1"/>
<polygon points="374.8,264.5 378.1,270.5 374.8,276.5 371.5,270.5" fill="#000" stroke="#000" stroke-width="1"/>
<polygon points="409.8,266.3 413.1,272.3 409.8,278.3 406.5,272.3" fill="#000" stroke="#000" stroke-width="1"/>
<polygon points="461.8,270 465.1,276 461.8,282 458.5,276" fill="#000" stroke="#000" stroke-width="1"/>
<polygon points="302.5,286 305.8,292 302.5,298 299.2,292" fill="#fff" stroke="#222" stroke-width="1"/>
<polygon points="338.5,262.3 341.8,268.3 338.5,274.3 335.2,268.3" fill="#fff" stroke="#222" stroke-width="1"/>
<polygon points="374.8,267.8 378.1,273.8 374.8,279.8 371.5,273.8" fill="#fff" stroke="#222" stroke-width="1"/>
<polygon points="409.8,270.5 413.1,276.5 409.8,282.5 406.5,276.5" fill="#fff" stroke="#222" stroke-width="1"/>
<polygon points="461.8,275.5 465.1,281.5 461.8,287.5 458.5,281.5" fill="#fff" stroke="#222" stroke-width="1"/>
<polygon points="302.5,329.81 305.73,335.25 299.27,335.25" fill="#000" stroke="#000" stroke-width="1"/>
<polygon points="338.5,315.31 341.73,320.75 335.27,320.75" fill="#000" stroke="#000" stroke-width="1"/>
<polygon points="374.8,313.01 378.03,318.45 371.57,318.45" fill="#000" stroke="#000" stroke-width="1"/>
<polygon points="409.8,318.31 413.03,323.75 406.57,323.75" fill="#000" stroke="#000" stroke-width="1"/>
<polygon points="461.8,323.01 465.03,328.45 458.57,328.45" fill="#000" stroke="#000" stroke-width="1"/>
<circle cx="302.5" cy="354.8" r="3.8" fill="#000" stroke="#000" stroke-width="1"/>
<circle cx="338.5" cy="348.9" r="3.8" fill="#000" stroke="#000" stroke-width="1"/>
<circle cx="374.8" cy="350.4" r="3.8" fill="#000" stroke="#000" stroke-width="1"/>
<circle cx="409.8" cy="353.9" r="3.8" fill="#000" stroke="#000" stroke-width="1"/>
<circle cx="461.8" cy="358.6" r="3.8" fill="#000" stroke="#000" stroke-width="1"/>
<polygon points="285,365.62 288.04,360.5 281.96,360.5" fill="#fff" stroke="#333" stroke-width="1"/>
<text x="467.5" y="233" font-size="11.5" text-anchor="start" font-weight="normal" fill="#111" stroke="#111" stroke-width="0.25">Ang+PMA</text>
<text x="467.5" y="242.8" font-size="11.5" text-anchor="start" font-weight="normal" fill="#111" stroke="#111" stroke-width="0.25">Ang</text>
<text x="467.5" y="276.9" font-size="11.5" text-anchor="start" font-weight="normal" fill="#111" stroke="#111" stroke-width="0.25">PMA</text>
<text x="467.5" y="286.4" font-size="11.5" text-anchor="start" font-weight="normal" fill="#111" stroke="#111" stroke-width="0.25">Irb+PMA</text>
<text x="467.8" y="330" font-size="11.5" text-anchor="start" font-weight="normal" fill="#111" stroke="#111" stroke-width="0.25">Irb+ Ang</text>
<text x="467.8" y="361" font-size="11.5" text-anchor="start" font-weight="normal" fill="#111" stroke="#111" stroke-width="0.25">None</text>
</svg>
</body></html>
